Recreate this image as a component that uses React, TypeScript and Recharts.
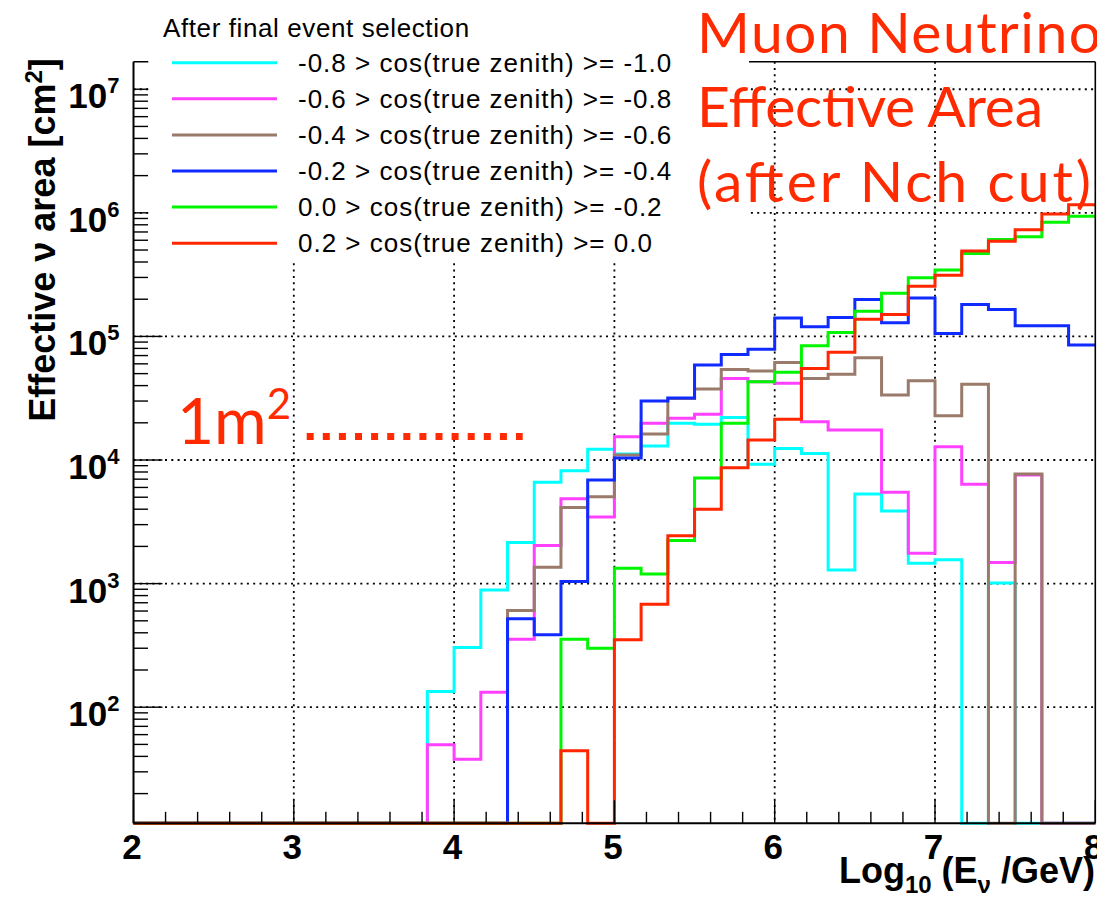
import React from 'react';
import { LineChart, Line, XAxis, YAxis, CartesianGrid } from 'recharts';

// 36 bins of width 1/6 in log10(E/GeV), from 2 to 8
const BIN_COUNT = 36;
const BIN_EDGES: number[] = Array.from({ length: BIN_COUNT + 1 }, (_, k) => 2 + k / 6);

const Z = 0;
const CYAN_VALUES = [Z, Z, Z, Z, Z, Z, Z, Z, Z, Z, Z, 134, 304, 889, 2150, 6600, 8200, 12200, 11200, 13000, 19800, 19500, 22100, 9230, 12400, 11300, 1290, 5310, 3870, 1460, 1560, 0, 1010, 0, 0, 0];
const MAGENTA_VALUES = [Z, Z, Z, Z, Z, Z, Z, Z, Z, Z, Z, 49.7, 38, 132, 355, 2030, 4870, 3460, 15400, 19800, 21800, 23500, 45700, 43000, 41700, 20400, 17500, 17500, 5480, 1760, 12800, 6360, 1480, 7560, 0, 0];
const BROWN_VALUES = [Z, Z, Z, Z, Z, Z, Z, Z, Z, Z, Z, 0, 0, 0, 605, 1355, 4120, 5050, 11000, 16200, 31500, 37500, 54000, 52400, 61600, 45700, 49500, 67100, 33500, 43700, 22800, 41100, 0, 7700, 0, 0];
const BLUE_VALUES = [Z, Z, Z, Z, Z, Z, Z, Z, Z, Z, Z, 0, 0, 0, 519, 385, 1040, 6890, 10400, 30000, 31700, 58600, 71500, 78900, 141000, 119700, 142500, 199000, 129000, 205000, 105800, 181500, 165300, 121900, 121900, 85200];
const GREEN_VALUES = [Z, Z, Z, Z, Z, Z, Z, Z, Z, Z, Z, 0, 0, 0, 0, 0, 355, 300, 1333, 1197, 2230, 7150, 19800, 43000, 51200, 84000, 107700, 160000, 223000, 298000, 344000, 469000, 608000, 639000, 840000, 940000];
const RED_VALUES = [Z, Z, Z, Z, Z, Z, Z, Z, Z, Z, Z, 0, 0, 0, 0, 0, 44.4, 0, 351, 681, 2440, 4000, 8670, 14500, 21400, 55100, 74300, 138000, 150600, 255000, 313000, 492000, 589000, 730000, 980000, 1160000];

const SERIES_LABELS = [
  '-0.8 > cos(true zenith) >= -1.0',
  '-0.6 > cos(true zenith) >= -0.8',
  '-0.4 > cos(true zenith) >= -0.6',
  '-0.2 > cos(true zenith) >= -0.4',
  '0.0 > cos(true zenith) >= -0.2',
  '0.2 > cos(true zenith) >= 0.0',
];
const SERIES_KEYS = ['cyan', 'magenta', 'brown', 'blue', 'green', 'red'];
const SERIES_COLORS = ['#00FFFF', '#FF40FF', '#9A7A6A', '#0F2BFF', '#00F500', '#FF2600'];
const SERIES_VALUES = [CYAN_VALUES, MAGENTA_VALUES, BROWN_VALUES, BLUE_VALUES, GREEN_VALUES, RED_VALUES];

const LEGEND_HEADER = 'After final event selection';
const TITLE_LINES = ['Muon Neutrino', 'Effective Area', '(after Nch cut)'];
const TITLE_WIDTHS = [404, 346, 394];

const Y_MIN = 11.5;
const Y_MAX = 1.67e7;
const Y_MAJOR = [100, 1e3, 1e4, 1e5, 1e6, 1e7];
const Y_TICKS: number[] = [];
for (let n = 1; n <= 7; n++) {
  for (let m = 1; m <= 9; m++) {
    const v = m * Math.pow(10, n);
    if (v >= Y_MIN && v <= Y_MAX) Y_TICKS.push(v);
  }
}
const X_TICKS: number[] = Array.from({ length: 31 }, (_, i) => 2 + i * 0.2);
const X_GRID = [3, 4, 5, 6, 7];

const rows = BIN_EDGES.map((x, k) => {
  const row: any = { x };
  SERIES_KEYS.forEach((key, i) => {
    const v = SERIES_VALUES[i][Math.min(k, BIN_COUNT - 1)];
    row[key] = v > 0 ? v : Y_MIN;
  });
  return row;
});

const AXIS_FONT = '"Liberation Sans", Arial, Helvetica, sans-serif';
const TITLE_FONT = "Lato, 'Open Sans', sans-serif";
const RED_TEXT = '#FF2A00';

const YTick = (props: any) => {
  const { x, y, payload } = props;
  const v = payload.value;
  const lg = Math.log10(v);
  const exp = Math.round(lg);
  const major = Math.abs(lg - exp) < 1e-9;
  return (
    <g>
      <line x1={x} x2={x + (major ? 29 : 14.5)} y1={y} y2={y} stroke="#000" strokeWidth={1.4} />
      {major && (
        <text x={x - 14} y={y + 19} textAnchor="end" fontFamily={AXIS_FONT} fontWeight="bold" fontSize={35} fill="#000">
          10<tspan dy={-15} fontSize={22}>{exp}</tspan>
        </text>
      )}
    </g>
  );
};

const XTick = (props: any) => {
  const { x, y, payload } = props;
  const v = payload.value;
  const major = Math.abs(v - Math.round(v)) < 1e-6;
  return (
    <g>
      <line x1={x} x2={x} y1={y} y2={y - (major ? 23 : 11.5)} stroke="#000" strokeWidth={1.4} />
      {major && (
        <text x={x - 1.5} y={y + 35.7} textAnchor="middle" fontFamily={AXIS_FONT} fontWeight="bold" fontSize={35} fill="#000">
          {Math.round(v)}
        </text>
      )}
    </g>
  );
};

const PLOT_L = 133.5;
const PLOT_R = 1095.3;
const PLOT_T = 61.7;
const PLOT_B = 823.3;

export default function App() {
  return (
    <div style={{ position: 'absolute', left: 0, top: 0, width: 1097, height: 906, background: '#fff', overflow: 'hidden' }}>
      <LineChart
        width={1097}
        height={906}
        data={rows}
        margin={{ top: PLOT_T, right: 1097 - PLOT_R, left: PLOT_L - 60, bottom: 906 - PLOT_B - 40 }}
      >
        <CartesianGrid
          stroke="#000"
          strokeWidth={1.8}
          strokeDasharray="2 4.3"
          horizontalValues={Y_MAJOR}
          verticalValues={X_GRID}
        />
        <XAxis
          dataKey="x"
          type="number"
          domain={[2, 8]}
          ticks={X_TICKS}
          interval={0}
          tick={(p: any) => <XTick {...p} />}
          tickLine={false}
          tickSize={0}
          tickMargin={0}
          axisLine={{ stroke: '#000', strokeWidth: 2 }}
          height={40}
        />
        <YAxis
          type="number"
          scale="log"
          domain={[Y_MIN, Y_MAX]}
          ticks={Y_TICKS}
          interval={0}
          tick={(p: any) => <YTick {...p} />}
          tickLine={false}
          tickSize={0}
          tickMargin={0}
          axisLine={{ stroke: '#000', strokeWidth: 2 }}
          width={60}
        />
        {SERIES_KEYS.map((key, i) => (
          <Line
            key={key}
            dataKey={key}
            type="stepAfter"
            stroke={SERIES_COLORS[i]}
            strokeWidth={3}
            dot={false}
            activeDot={false}
            isAnimationActive={false}
            strokeLinejoin="miter"
          />
        ))}
      </LineChart>
      <svg width={1097} height={906} style={{ position: 'absolute', left: 0, top: 0, pointerEvents: 'none' }}>
        {/* frame top and right */}
        <line x1={PLOT_L} x2={PLOT_R} y1={PLOT_T} y2={PLOT_T} stroke="#000" strokeWidth={1.6} />
        <line x1={PLOT_R} x2={PLOT_R} y1={PLOT_T} y2={PLOT_B} stroke="#000" strokeWidth={1.6} />
        {/* legend box */}
        <rect x={148.3} y={0} width={600.7} height={260} fill="#fff" />
        <text x={163} y={36.7} fontFamily={AXIS_FONT} fontSize={26} letterSpacing={0.6} fill="#000">{LEGEND_HEADER}</text>
        {SERIES_LABELS.map((lab, i) => {
          const cy = 62.7 + i * 36.1;
          return (
            <g key={lab}>
              <line x1={172} x2={277} y1={cy} y2={cy} stroke={SERIES_COLORS[i]} strokeWidth={3} />
              <text x={298} y={cy + 9} fontFamily={AXIS_FONT} fontSize={26} letterSpacing={1} fill="#000">{lab}</text>
            </g>
          );
        })}
        {/* red title */}
        {TITLE_LINES.map((t, i) => (
          <text
            key={t}
            x={697}
            y={52.7 + i * 74.5}
            fontFamily={TITLE_FONT}
            fontSize={57}
            fill={RED_TEXT}
            textLength={TITLE_WIDTHS[i]}
            lengthAdjust="spacing"
          >
            {t}
          </text>
        ))}
        {/* 1 m^2 annotation */}
        <text x={177} y={444} fontFamily={TITLE_FONT} fontSize={64} fill={RED_TEXT}>
          1m<tspan dy={-25} fontSize={42}>2</tspan>
        </text>
        <line x1={306.7} x2={522.7} y1={436.5} y2={436.5} stroke={RED_TEXT} strokeWidth={7} strokeDasharray="7 9.1" />
        {/* axis titles */}
        <text
          x={55}
          y={240}
          transform="rotate(-90, 55, 240)"
          textAnchor="middle"
          fontFamily={AXIS_FONT}
          fontWeight="bold"
          fontSize={36}
          fill="#000"
        >
          Effective ν area [cm<tspan dy={-13} fontSize={24}>2</tspan><tspan dy={13}>]</tspan>
        </text>
        <text x={1095} y={883} textAnchor="end" fontFamily={AXIS_FONT} fontWeight="bold" fontSize={36} fill="#000">
          Log<tspan dy={10} fontSize={24}>10</tspan><tspan dy={-10}> (E</tspan><tspan dy={10} fontSize={24}>ν</tspan><tspan dy={-10}> /GeV)</tspan>
        </text>
      </svg>
    </div>
  );
}
